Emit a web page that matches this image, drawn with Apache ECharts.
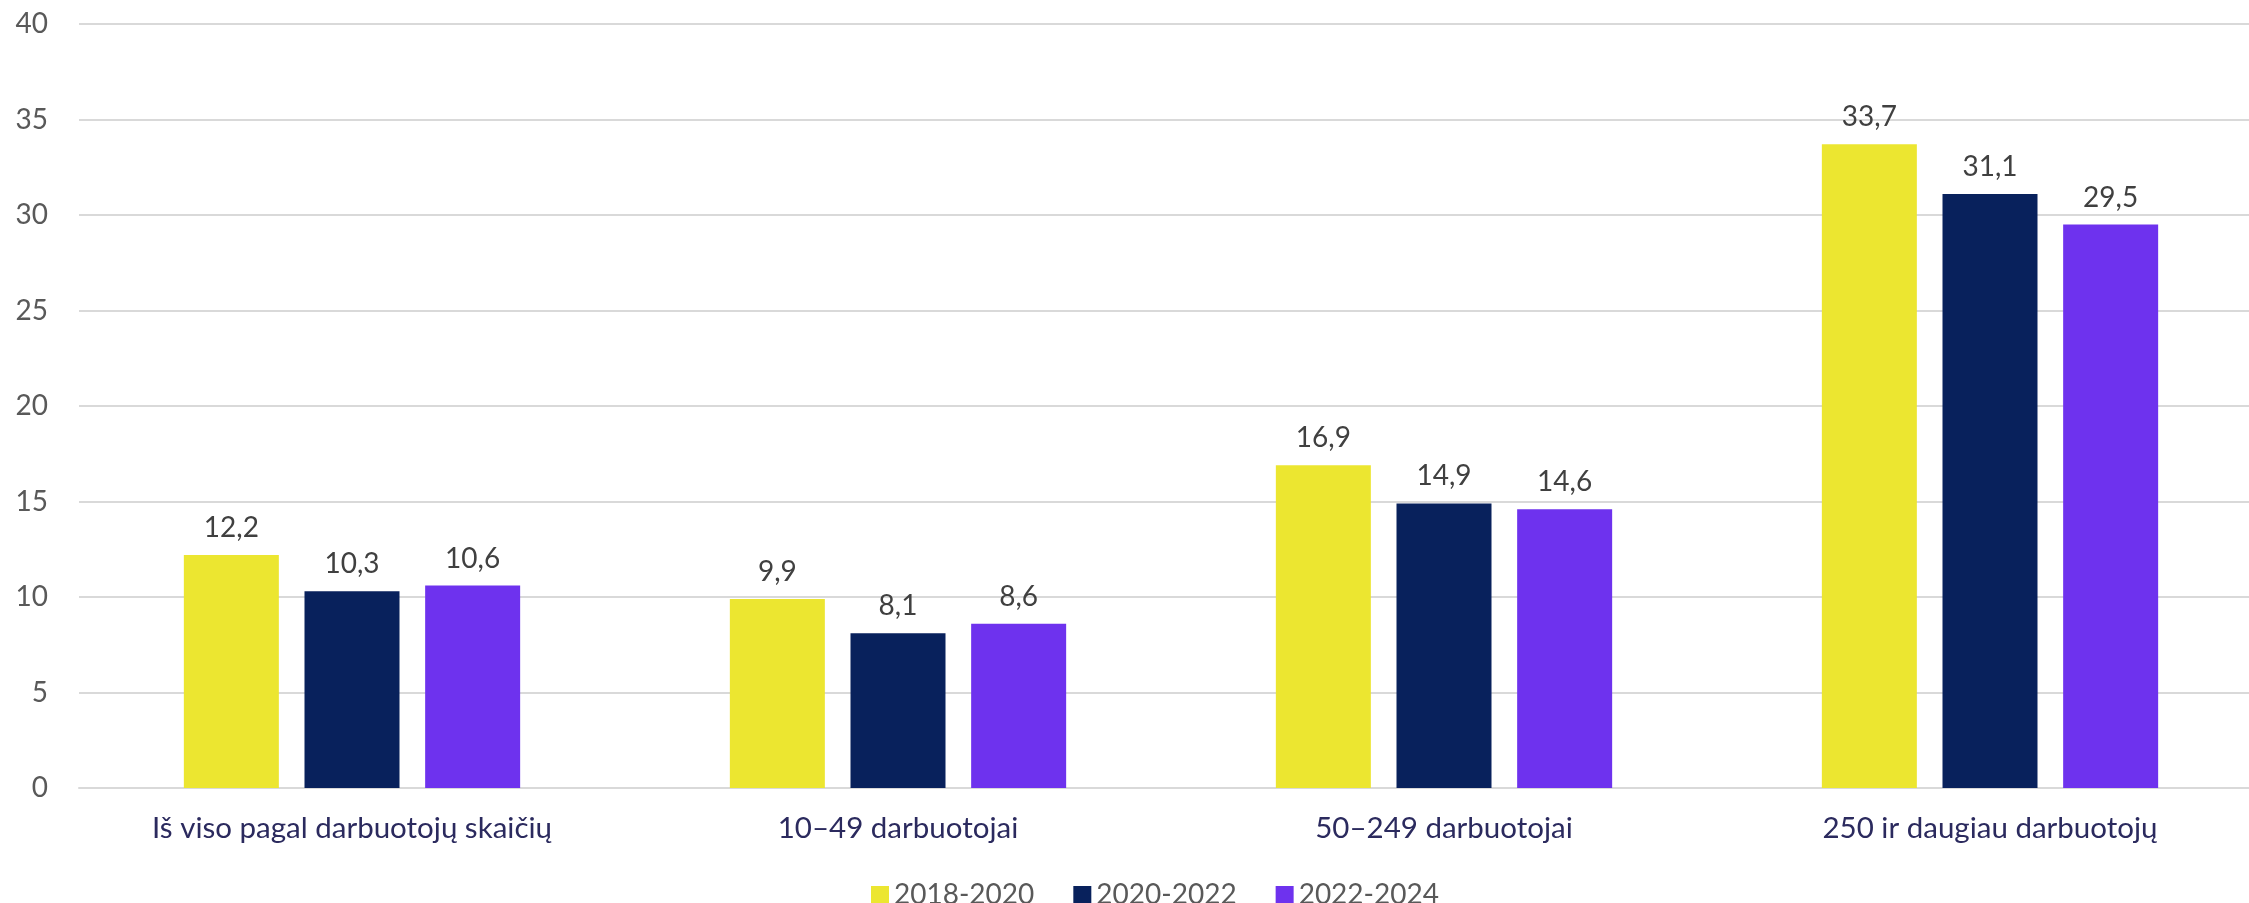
<!DOCTYPE html>
<html>
<head>
<meta charset="utf-8">
<script src="https://cdn.jsdelivr.net/npm/echarts@6/dist/echarts.min.js"></script>
<style>
  html, body { margin: 0; padding: 0; background: #fff; }
  #chart { width: 2249px; height: 903px; }
</style>
</head>
<body>
<div id="chart"></div>
<script>
const categories = [
  "Iš viso pagal darbuotojų skaičių",
  "10–49 darbuotojai",
  "50–249 darbuotojai",
  "250 ir daugiau darbuotojų"
];
const seriesNames = ["2018-2020", "2020-2022", "2022-2024"];
const values2018 = [12.2, 9.9, 16.9, 33.7];
const values2020 = [10.3, 8.1, 14.9, 31.1];
const values2022 = [10.6, 8.6, 14.6, 29.5];
const colors = ["#ECE630", "#08215C", "#6E32EE"];

const font = "Lato";

let myChart = echarts.init(document.getElementById("chart"));

const fmt = (p) => p.value.toFixed(1).replace(".", ",");

const makeSeries = (name, data, color) => ({
  name: name,
  type: "bar",
  data: data,
  barWidth: 95,
  barGap: "27%",
  itemStyle: { color: color },
  label: {
    show: true,
    position: "top",
    distance: 13,
    formatter: fmt,
    color: "#404040",
    fontFamily: font,
    fontSize: 28
  }
});

let option = {
  animation: false,
  backgroundColor: "#fff",
  grid: { left: 79, top: 24, width: 2184, height: 764, outerBoundsMode: "none" },
  legend: {
    left: 866,
    top: 876,
    itemWidth: 18,
    itemHeight: 18,
    itemGap: 39,
    icon: "rect",
    textStyle: { color: "#595959", fontFamily: font, fontSize: 28 },
    data: seriesNames
  },
  xAxis: {
    type: "category",
    data: categories,
    axisLine: { lineStyle: { color: "#d9d9d9", width: 2 } },
    axisTick: { show: false },
    axisLabel: { color: "#2B2A5E", fontFamily: font, fontSize: 29.5, margin: 25 }
  },
  yAxis: {
    type: "value",
    min: 0,
    max: 40,
    interval: 5,
    axisLine: { show: false },
    axisTick: { show: false },
    splitLine: { lineStyle: { color: "#d9d9d9", width: 2 } },
    axisLabel: { color: "#595959", fontFamily: font, fontSize: 28, margin: 31 }
  },
  series: [
    makeSeries(seriesNames[0], values2018, colors[0]),
    makeSeries(seriesNames[1], values2020, colors[1]),
    makeSeries(seriesNames[2], values2022, colors[2])
  ]
};

option && myChart.setOption(option);
</script>
</body>
</html>
